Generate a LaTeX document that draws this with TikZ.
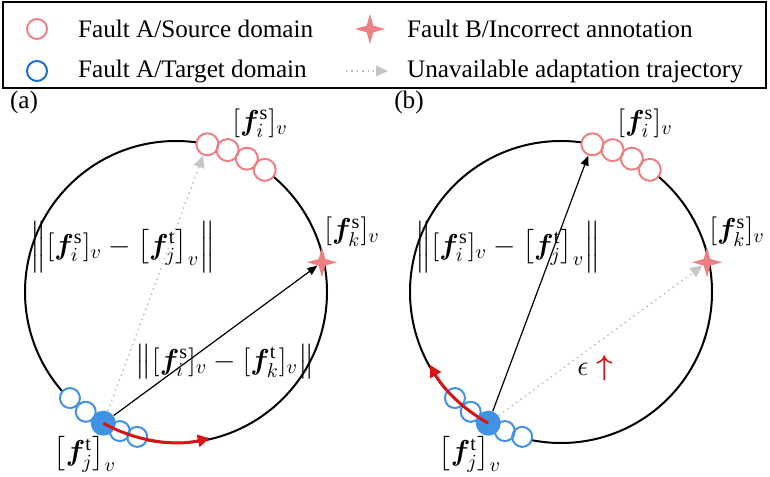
\documentclass[tikz,border=0pt]{standalone}
\usepackage{fontspec}
\setmainfont{Liberation Serif}
\usepackage{amsmath,bm}
\usetikzlibrary{arrows.meta,calc,shapes.geometric}
\definecolor{srcpink}{RGB}{238,128,132}
\definecolor{tgtblue}{RGB}{66,146,228}
\definecolor{legblue}{RGB}{28,108,212}
\definecolor{trajred}{RGB}{214,22,22}
\tikzset{
    srcnode/.style={circle,draw=srcpink,line width=1pt,inner sep=0pt,minimum size=11pt},
    tgtnode/.style={circle,draw=tgtblue,line width=1pt,inner sep=0pt,minimum size=10pt},
    anchornode/.style={circle,fill=tgtblue,inner sep=0pt,minimum size=12.5pt},
    faultB/.style={star,star points=4,star point ratio=3.2,fill=srcpink,inner sep=0pt,minimum size=15pt},
    ring/.style={line width=1pt,draw=black},
    realtraj/.style={draw=black,line width=0.6pt,-{Triangle[length=5pt,width=4pt]}},
    faketraj/.style={draw=gray!55,dotted,line width=0.7pt,-{Triangle[length=6pt,width=5.5pt,color=gray!45]}},
    movetraj/.style={draw=trajred,line width=1.5pt,-{Triangle[length=6pt,width=6pt]}},
    mathlabel/.style={inner sep=0.5pt,font=\fontsize{14.4}{17}\selectfont},
    every node/.style={font=\fontsize{12.6}{15}\selectfont}
}

\begin{document}
\begin{tikzpicture}[x=0.5pt,y=0.5pt]
  \useasboundingbox (0,0) rectangle (770,476);

  % legend
  \draw[line width=1pt] (3,388) rectangle (766,474);
  \node[srcnode,minimum size=10pt] (lgsrc) at (37,447) {};
  \node[anchor=west] (lgsrctxt) at (71,447) {Fault A/Source domain};
  \node[tgtnode,draw=legblue] (lgtgt) at (37,405) {};
  \node[anchor=west] (lgtgttxt) at (71,405) {Fault A/Target domain};
  \node[faultB] (lgfb) at (370,447) {};
  \node[anchor=west] (lgfbtxt) at (400,447) {Fault B/Incorrect annotation};
  \coordinate (lga) at (346,405);
  \coordinate (lgb) at (388,405);
  \draw[faketraj] (lga) -- (lgb);
  \node[anchor=west] (lgfaketxt) at (400,405) {Unavailable adaptation trajectory};

  % both panels: ring, source / target samples, fault B
  \foreach \p/\cx in {a/176,b/561}{
    \coordinate (C\p) at (\cx,184);
    \draw[ring] (C\p) circle (151);
    \foreach \a in {78,70,62,54}{\fill[white] ($(C\p)+(\a:151)$) circle (11);}
    \foreach \k/\a in {1/78,2/70,3/62,4/54}{
      \node[srcnode] (src\p\k) at ($(C\p)+(\a:151)$) {};
    }
    \foreach \a in {225,233,248,255}{\fill[white] ($(C\p)+(\a:150)$) circle (10);}
    \foreach \k/\a in {1/225,2/233,3/248,4/255}{
      \node[tgtnode] (tgt\p\k) at ($(C\p)+(\a:150)$) {};
    }
    \node[anchornode] (tgt\p) at ($(C\p)+(241:150)$) {};
    \node[faultB] (fk\p) at ($(C\p)+(11.5:149)$) {};

    \node (tag\p) at ($(C\p)+(-152,190)$) {(\p)};
    \node[mathlabel] (lfi\p) at ($(C\p)+(84,169)$) {$[\bm{f}_i^{\mathrm{s}}]_v$};
    \node[mathlabel] (lfk\p) at ($(C\p)+(176,60)$) {$[\bm{f}_k^{\mathrm{s}}]_v$};
    \node[mathlabel] (lfj\p) at ($(C\p)+(-91,-162)$) {$\big[\bm{f}_j^{\mathrm{t}}\big]_v$};
    \node[mathlabel] (nij\p) at ($(C\p)+(-53,45)$)
      {$\Big\|[\bm{f}_i^{\mathrm{s}}]_v-\big[\bm{f}_j^{\mathrm{t}}\big]_v\Big\|$};
  }

  % (a): fault B is reached, source is not
  \draw[faketraj] (tgta) -- (srca1);
  \draw[realtraj] (tgta) -- (fka);
  \node[mathlabel] (nika) at (225,114) {$\big\|[\bm{f}_i^{\mathrm{s}}]_v-[\bm{f}_k^{\mathrm{t}}]_v\big\|$};
  \draw[movetraj] (tgta.center) arc[start angle=241,end angle=283,radius=150];

  % (b): source is reached, fault B is not
  \draw[realtraj] (tgtb) -- (srcb1);
  \draw[faketraj] (tgtb) -- (fkb);
  \node[mathlabel] (epsb) at (595,108) {$\epsilon$ \textcolor{trajred}{$\boldsymbol{\uparrow}$}};
  \draw[movetraj] (tgtb.center) arc[start angle=241,end angle=209,radius=150];
\end{tikzpicture}
\end{document}
